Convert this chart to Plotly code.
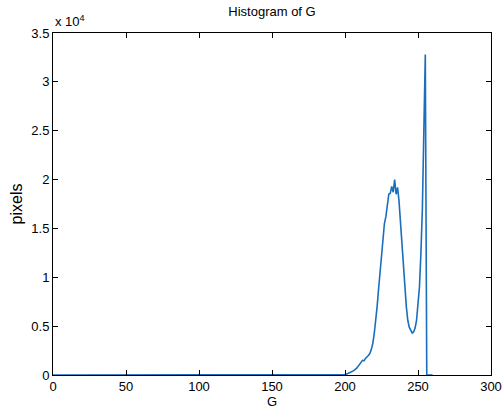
import plotly.graph_objects as go

# histogram of green channel (G value -> pixel count)
g_vals = [0, 198, 200, 202, 204, 206, 208, 210, 212, 213, 214, 216, 217, 218, 219,
          220, 221, 222, 223, 224, 225, 226, 227, 228, 229, 230, 231, 232, 233, 234,
          235, 236, 237, 238, 239, 240, 241, 242, 243, 244, 245, 246, 247, 248, 249,
          250, 251, 252, 253, 254, 255, 256, 260]
counts = [0, 0, 50, 150, 300, 450, 700, 1100, 1500, 1450, 1700, 2000, 2200, 2600, 3200,
          4200, 5500, 7000, 8800, 10500, 12000, 14000, 15500, 16200, 17500, 18500, 18600, 19300, 18700, 20000,
          18500, 19200, 17800, 15500, 13500, 11000, 8800, 7000, 5600, 4900, 4600, 4300, 4400, 4800, 5600,
          7000, 9000, 12500, 17000, 25000, 32800, 0, 0]

x_ticks = [0, 50, 100, 150, 200, 250, 300]
y_ticks = [0, 5000, 10000, 15000, 20000, 25000, 30000, 35000]
y_ticktext = ["0", "0.5", "1", "1.5", "2", "2.5", "3", "3.5"]

font = dict(family="Liberation Sans, Arial, sans-serif", size=13, color="black")

fig = go.Figure()
fig.add_trace(go.Scatter(x=g_vals, y=counts, mode="lines",
                         line=dict(color="#1a6fbd", width=1.6), showlegend=False))

fig.update_layout(
    width=504, height=406,
    margin=dict(l=53, r=13, t=33, b=31, autoexpand=False),
    paper_bgcolor="white", plot_bgcolor="white",
    font=font,
    title=dict(text="Histogram of G", xref="paper", x=0.5, xanchor="center",
               yref="container", y=0.972, yanchor="middle",
               font=dict(size=13), automargin=False),
)
fig.update_xaxes(range=[0, 300], tickvals=x_ticks, showgrid=False, zeroline=False,
                 showline=True, linecolor="black", linewidth=1, mirror="ticks",
                 ticks="inside", ticklen=5, tickcolor="black", automargin=False,
                 ticklabelstandoff=-1)
fig.update_yaxes(range=[0, 35000], tickvals=y_ticks, ticktext=y_ticktext,
                 showgrid=False, zeroline=False, automargin=False,
                 showline=True, linecolor="black", linewidth=1, mirror="ticks",
                 ticks="inside", ticklen=5, tickcolor="black",
                 title=dict(text="pixels", standoff=4))
fig.add_annotation(x=0, y=1, xref="paper", yref="paper", xanchor="left", yanchor="bottom",
                   text="x 10<sup>4</sup>", showarrow=False, font=dict(size=13), yshift=2)
# x-axis title sits low, near the bottom edge as in the original
fig.add_annotation(x=0.5, y=0, xref="paper", yref="paper", xanchor="center", yanchor="top",
                   text="G", showarrow=False, font=dict(size=13), yshift=-17)

# page body has a default 8px margin; drop it so the figure fills the window
fig.write_html("out.html", config={"displayModeBar": False},
               post_script="document.body.style.margin='0px';")
